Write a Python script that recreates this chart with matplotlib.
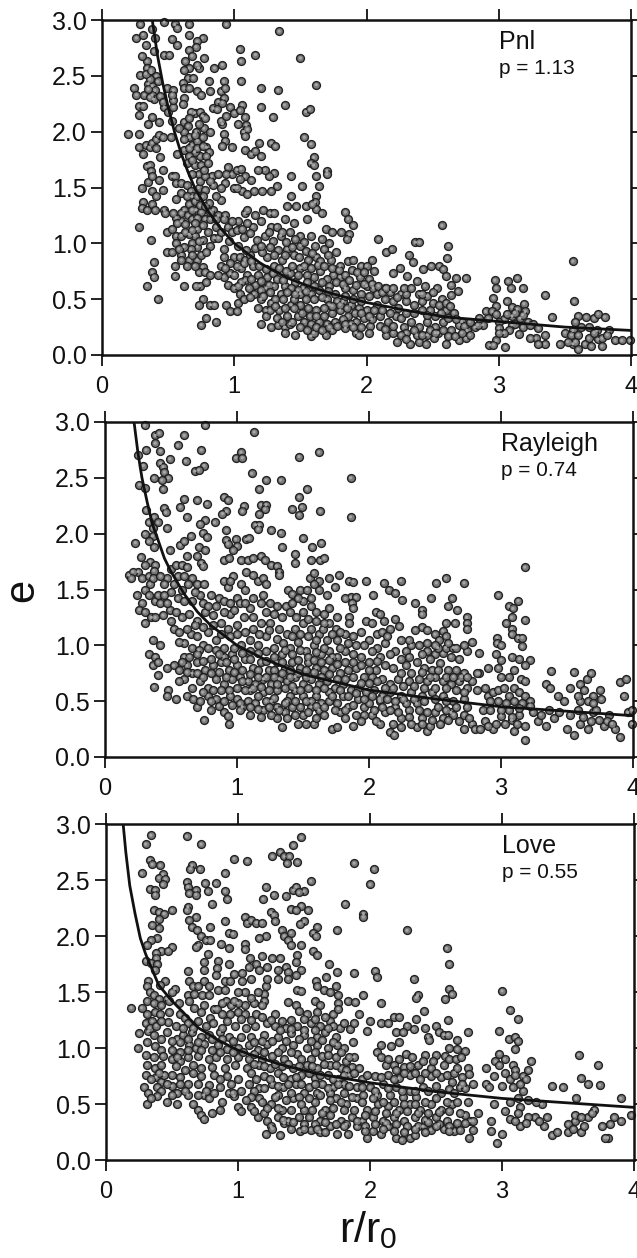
import matplotlib
matplotlib.use("Agg")
import matplotlib.pyplot as plt

plt.rcParams['font.family'] = ['Liberation Sans', 'DejaVu Sans']
plt.rcParams['mathtext.default'] = 'regular'

W, H = 637, 1258

x_ticks = [0, 1, 2, 3, 4]
y_ticks = [0.0, 0.5, 1.0, 1.5, 2.0, 2.5, 3.0]
y_labels = ['0.0', '0.5', '1.0', '1.5', '2.0', '2.5', '3.0']

pnl_curve_r = [.38,.42,.46,.5,.55,.6,.65,.7,.8,.9,1,1.2,1.4,1.6,1.8,2,2.3,2.6,3,3.5,4]
pnl_curve_e = [3.0,2.68,2.43,2.22,1.99,1.8,1.64,1.5,1.29,1.13,1.0,.82,.69,.6,.53,.47,.4,.34,.3,.25,.22]
ray_curve_r = [.22,.25,.28,.32,.36,.4,.45,.5,.6,.7,.8,1,1.2,1.5,2,2.5,3,3.5,4]
ray_curve_e = [3.0,2.72,2.5,2.28,2.08,1.95,1.78,1.66,1.46,1.3,1.18,1.0,.88,.74,.6,.52,.45,.41,.37]
love_curve_r = [.13,.15,.18,.22,.26,.3,.35,.4,.5,.6,.7,.85,1,1.3,1.6,2,2.5,3,3.5,4]
love_curve_e = [3.0,2.75,2.45,2.2,1.98,1.84,1.7,1.56,1.42,1.3,1.18,1.07,.98,.86,.77,.69,.61,.55,.51,.47]

pnl_points = [
(.29,2.96),(.47,2.98),(.55,2.96),(.57,2.93),(.66,2.96),(.94,2.96),(1.34,2.90),(.38,2.92),(.26,2.84),(.31,2.87),
(.33,2.78),(.40,2.84),(.66,2.87),(.76,2.84),(.53,2.83),(.57,2.78),(.72,2.81),(.71,2.76),(1.04,2.74),(.66,2.73),
(.39,2.72),(1.16,2.69),(1.5,2.66),(.47,2.69),(.51,2.69),(.77,2.66),(1.05,2.63),(.34,2.63),(.63,2.63),(.85,2.57),
(.91,2.60),(.73,2.57),(.34,2.57),(.66,2.57),(.29,2.51),(.37,2.53),(.41,2.5),(.65,2.48),(.61,2.44),(.32,2.33),
(.35,2.43),(.38,2.41),(.4,2.37),(.24,2.39),(.26,2.33),(.38,2.33),(.39,2.29),(.28,2.23),(.31,2.23),(.49,2.39),
(.54,2.37),(.62,2.39),(.66,2.39),(.72,2.36),(.75,2.33),(.81,2.45),(.82,2.36),(.92,2.45),(.9,2.36),(.93,2.39),
(1.05,2.45),(1.2,2.39),(1.33,2.37),(1.62,2.42),(1.38,2.24),(.92,2.3),(.88,2.27),(.91,2.26),(.97,2.22),(.84,2.21),
(1.0,2.17),(1.06,2.24),(1.04,2.19),(1.03,2.07),(1.08,2.13),(1.2,2.22),(1.29,2.13),(1.54,2.18),(1.57,2.2),(.28,2.15),
(.38,2.13),(.43,2.09),(.47,2.22),(.5,2.18),(.54,2.22),(.53,2.1),(.35,2.07),(.62,2.3),(.61,2.25),(.7,2.17),
(.74,2.18),(.76,2.14),(.67,2.18),(.62,2.09),(.65,2.05),(.71,2.0),(.77,2.03),(.82,2.0),(.91,2.07),(.92,1.98),
(.93,1.92),(.91,1.87),(.98,1.86),(1.07,2.0),(1.09,2.06),(1.1,2.02),(1.08,1.96),(1.53,1.95),(1.58,1.89),(1.28,1.9),
(1.31,1.87),(1.19,1.9),(.2,1.98),(.28,1.98),(.28,1.86),(.31,1.8),(.33,1.88),(.36,1.86),(.38,1.9),(.41,1.93),
(.43,1.97),(.46,1.95),(.41,1.85),(.44,1.77),(.34,1.69),(.36,1.7),(.37,1.65),(.46,1.66),(.3,1.5),(.35,1.55),
(.38,1.6),(.43,1.57),(.38,1.47),(.41,1.42),(.46,1.48),(.31,1.37),(.3,1.32),(.34,1.3),(.38,1.35),(.4,1.3),
(.47,1.3),(.48,1.27),(.28,1.15),(.37,1.03),(.49,1.1),(.53,1.13),(.56,1.07),(.6,1.07),(.39,.83),(.38,.74),
(.39,.7),(.34,.62),(.42,.5),(.49,.92),(.55,.8),(.55,.71),(.62,.62),(.52,1.95),(.62,2.0),(.66,1.95),(.62,1.93),
(.68,1.88),(.72,1.92),(.76,1.95),(.79,1.86),(.81,1.82),(.74,1.78),(.79,1.78),(.7,1.82),(.66,1.78),(.64,1.72),
(.7,1.7),(.75,1.7),(.8,1.72),(.73,1.62),(.68,1.62),(.83,1.6),(.84,1.52),(.93,1.54),(.95,1.68),(.98,1.62),
(1.02,1.66),(1.05,1.67),(1.08,1.6),(1.13,1.57),(1.0,1.5),(1.06,1.47),(1.1,1.44),(1.15,1.47),(1.21,1.47),(1.28,1.47),
(1.32,1.51),(1.3,1.63),(1.26,1.6),(1.23,1.66),(1.18,1.66),(1.08,1.84),(1.13,1.8),(1.16,1.83),(1.2,1.78),(1.6,1.77),
(1.58,1.72),(1.6,1.7),(1.7,1.65),(1.7,1.62),(1.62,1.6),(1.64,1.51),(1.51,1.51),(1.43,1.42),(1.43,1.6),(1.62,1.42),
(1.61,1.37),(1.62,1.31),(.53,1.6),(.55,1.6),(.56,1.54),(.6,1.54),(.64,1.52),(.67,1.47),(.68,1.42),(.73,1.5),
(.78,1.48),(.76,1.42),(.9,1.39),(.81,1.36),(.84,1.3),(.88,1.25),(.93,1.25),(.66,1.35),(.62,1.3),(.6,1.27),
(.65,1.25),(.6,1.2),(.63,1.17),(.71,1.3),(.75,1.28),(.78,1.22),(.72,1.13),(.76,1.16),(.8,1.1),(.7,1.07),
(.76,1.03),(.72,.97),(.68,1.0),(.67,.95),(.62,.97),(.6,.9),(.66,.85),(.64,.8),(.72,.85),(.75,.9),
(.76,.79),(.73,.74),(.78,.74),(.74,.62),(.79,.65),(.71,.62),(.76,.5),(.73,.45),(.82,.45),(.85,.45),
(.79,.33),(.75,.27),(.86,.3),(.94,.45),(.97,.39),(1.02,.39),(.9,.8),(.92,.7),(.97,.73),(.95,.63),
(1.0,.6),(1.04,.55),(1.03,.47),(1.07,.5),(.85,1.05),(.88,1.05),(.92,.95),(.96,1.02),(.95,1.15),(.98,1.1),
(1.03,1.2),(1.08,1.27),(1.1,1.3),(1.16,1.25),(1.22,1.3),(1.27,1.27),(1.3,1.27),(1.14,1.15),(1.2,1.2),(1.28,1.15),
(1.32,1.15),(1.38,1.22),(1.4,1.33),(1.47,1.33),(1.54,1.33),(1.59,1.35),(1.66,1.27),(1.45,1.18),(1.55,1.22),(1.42,1.1),
(1.5,1.07),(1.58,1.07),(1.69,1.13),(1.74,1.1),(1.81,1.1),(1.84,1.28),(1.86,1.22),(1.9,1.16),(1.87,1.08),(1.85,1.04),
(2.09,1.04),(2.15,.92),(2.19,.95),(2.37,1.01),(2.4,1.01),(2.57,1.16),(2.62,.98),(2.61,.87),(2.32,.9),(2.35,.83),
(2.25,.78),(2.2,.73),(2.31,.71),(2.43,.77),(2.49,.8),(2.55,.8),(2.58,.77),(2.6,.71),(2.68,.69),(2.75,.69),
(2.38,.66),(2.44,.62),(2.53,.6),(2.64,.63),(2.69,.57),(2.64,.54),(2.57,.5),(2.97,.67),(2.98,.6),(3.07,.66),
(3.14,.69),(3.09,.6),(3.18,.6),(3.35,.54),(3.56,.84),(3.57,.48),(2.96,.51),(2.98,.44),(3.06,.48),(3.1,.43),
(3.19,.46),(3.14,.41),(3.2,.39),(3.1,.35),(3.04,.32),(2.9,.39),(2.95,.39),(3.0,.3),(3.1,.27),(3.22,.3),
(3.26,.28),(3.4,.34),(3.6,.35),(3.66,.34),(3.58,.3),(3.72,.33),(3.75,.37),(3.8,.34),(3.83,.22),(3.56,.22),
(3.62,.25),(3.5,.2),(3.56,.1),(3.6,.05),(3.65,.1),(3.55,.18),(3.68,.15),(3.75,.14),(3.78,.08),(3.78,.15),
(3.88,.13),(3.93,.13),(3.99,.13),(3.46,.1),(3.35,.1),(3.28,.15),(3.3,.1),(3.24,.15),(3.15,.19),(3.05,.07),
(2.98,.13),(2.93,.09),(2.96,.09),(1.0,.88),(1.04,.88),(1.08,.85),(1.12,.9),(1.05,.78),(1.1,.72),(1.14,.8),
(1.18,.72),(1.16,.63),(1.11,.6),(1.08,.67),(1.15,.55),(1.2,.5),(1.18,.42),(1.24,.4),(1.24,.35),(1.2,.28),
(1.28,.25),(1.33,.27),(1.38,.25),(1.46,.18),(1.58,.17),(1.6,.2),(1.69,.18),(1.74,.22),(1.84,.24),(1.92,.2),
(1.94,.18),(2.03,.26),(2.15,.18),(2.2,.2),(2.23,.12),(2.33,.1),(2.4,.12),(2.45,.1),(2.51,.15),(2.6,.1),
(2.7,.13),(2.75,.15),(1.25,.7),(1.3,.62),(1.35,.55),(1.28,.47),(1.34,.4),(1.4,.35),(1.43,.45),(1.38,.62),
(1.42,.73),(1.36,.85),(1.3,.8),(1.25,.88),(1.4,.95),(1.45,.9),(1.5,.98),(1.56,.85),(1.62,.88),(1.68,.95),
(1.73,.85),(1.77,.92),(1.8,.8),(1.86,.84),(1.9,.85),(1.96,.8),(2.0,.8),(2.04,.85),(2.06,.75),(2.02,.68),
(2.0,.62),(2.05,.6),(1.96,.55),(1.9,.58),(1.84,.6),(1.8,.7),(1.75,.72),(1.7,.68),(1.65,.75),(1.6,.7),
(1.55,.72),(1.5,.78),(1.46,.65),(1.52,.6),(1.58,.55),(1.64,.58),(1.7,.5),(1.76,.55),(1.82,.48),(1.88,.45),
(1.94,.42),(2.0,.4),(2.08,.45),(2.14,.5),(2.2,.48),(2.26,.55),(2.3,.48),(2.36,.45),(2.42,.48),(2.48,.4),
(1.45,.5),(1.5,.45),(1.56,.42),(1.62,.4),(1.68,.35),(1.74,.38),(1.8,.4),(1.86,.35),(1.92,.3),(1.98,.33),
(1.48,.35),(1.53,.3),(1.58,.28),(1.64,.3),(1.7,.28),(1.76,.3),(1.82,.32),(1.88,.28),(2.04,.32),(2.1,.35),
(2.16,.3),(2.22,.35),(2.28,.25),(2.34,.3),(2.4,.25),(2.46,.3),(2.52,.25),(2.58,.3),(2.64,.22),(2.7,.27),
(2.76,.22),(2.82,.25),(2.88,.27),(2.3,.2),(2.38,.18),(2.46,.18),(2.54,.2),(2.26,.33),(2.6,.4),(2.66,.38),
(2.72,.3),(1.32,.33),(1.36,.3),(1.24,.6),(1.2,.58),(1.42,.28),(1.5,.55),(1.55,.65),(1.72,.62),(1.95,.7),
]
pnl_extra = [
(1.02,1.12),(1.07,1.06),(1.12,1.09),(1.17,1.03),(1.23,1.07),(1.29,1.02),(1.35,1.07),(1.39,1.01),(1.46,1.04),(1.53,1.01),
(1.61,.98),(1.66,1.04),(1.72,1.0),(1.03,.98),(1.09,.94),(1.16,.96),(1.21,.92),(1.27,.97),(1.33,.94),(1.38,.9),(1.44,.97),
(1.49,.88),(1.54,.93),(1.59,.91),(1.65,.84),(1.71,.9),(1.07,.82),(1.13,.84),(1.19,.8),(1.24,.77),(1.29,.73),(1.34,.78),
(1.39,.75),(1.44,.8),(1.48,.72),(1.53,.8),(1.58,.78),(1.63,.81),(1.68,.8),(1.74,.78),(1.79,.76),(1.84,.72),(1.89,.76),
(1.93,.74),(1.98,.74),(1.13,.68),(1.2,.66),(1.26,.63),(1.32,.68),(1.37,.67),(1.43,.6),(1.48,.58),(1.54,.57),(1.6,.62),
(1.66,.65),(1.71,.57),(1.77,.65),(1.82,.64),(1.87,.67),(1.92,.63),(1.98,.64),(2.04,.64),(2.09,.62),(2.14,.6),(1.12,.52),
(1.22,.53),(1.27,.56),(1.31,.5),(1.37,.5),(1.4,.56),(1.46,.55),(1.54,.5),(1.6,.5),(1.66,.52),(1.72,.45),(1.78,.48),
(1.84,.53),(1.9,.5),(1.96,.48),(2.02,.53),(2.08,.55),(2.12,.56),(2.18,.56),(2.23,.52),(2.3,.55),(2.4,.55),(2.46,.53),
(2.5,.47),(2.55,.45),(2.6,.47),(2.63,.44),(1.27,.4),(1.31,.44),(1.38,.42),(1.45,.42),(1.51,.38),(1.57,.35),(1.62,.35),
(1.68,.42),(1.74,.44),(1.8,.45),(1.85,.42),(1.91,.38),(1.96,.38),(2.02,.35),(2.06,.4),(2.12,.4),(2.18,.38),(2.24,.42),
(2.3,.38),(2.36,.38),(2.42,.4),(2.46,.36),(2.52,.35),(2.56,.38),(2.62,.33),(2.68,.32),(2.74,.26),(2.78,.3),(1.38,.2),
(1.44,.3),(1.5,.25),(1.55,.22),(1.62,.25),(1.66,.22),(1.72,.25),(1.78,.26),(1.84,.28),(1.9,.25),(1.96,.25),(2.02,.2),
(2.1,.26),(2.14,.23),(2.2,.26),(2.26,.18),(2.3,.14),(2.36,.22),(2.42,.18),(2.48,.22),(2.52,.2),(2.58,.22),(2.62,.17),
(2.67,.17),(2.72,.2),(2.78,.18),(2.84,.27),(1.3,.9),(1.2,.98),(1.26,1.1),(1.36,1.1),(1.1,1.18),(1.06,1.13),(.98,1.2),
(.92,1.22),(.86,1.15),(.9,1.1),(.82,1.22),(.68,1.22),(.72,1.23),(.7,1.18),(.66,1.08),(.73,1.02),(.82,.98),(.79,.92),
(.68,.9),(.7,.8),(.82,.72),(.88,.72),(.92,.88),(.97,.82),(1.02,.8),(1.0,.72),(1.05,.65),(1.03,.62),(.93,.78),
(.56,1.23),(.54,1.27),(.57,1.18),(.63,1.1),(.68,1.12),(.56,1.0),(.53,.92),(.6,.85),(.58,.95),(.7,1.38),(.74,1.34),
(.68,1.3),(.78,1.33),(.82,1.28),(.86,1.22),(.6,1.45),(.56,1.4),(.72,1.42),(.64,1.42),(.86,1.42),(.74,1.56),(.78,1.6),
(.77,1.66),(.82,1.56),(.88,1.62),(.9,1.5),(.94,1.62),(1.04,1.58),(1.02,1.5),(.57,1.8),(.62,1.84),(.66,1.85),(.72,1.85),
(.68,1.75),(.76,1.87),(.7,1.97),(.73,2.07),(.78,2.12),(.66,2.12),(.58,2.03),(.54,2.28),(.53,2.33),(.44,2.32),(.46,2.27),
(.35,2.38),(.36,2.31),(.42,2.45),(.36,2.47),(.33,2.52),(.3,2.68),(.37,2.55),(.72,2.6),(.68,2.68),(.62,2.55),(.69,2.48),
(.87,2.2),(.9,2.1),(.94,2.14),(2.15,.6),(2.2,.6),(2.28,.6),(2.34,.6),(2.42,.55),(2.5,.56),(2.85,.33),(2.92,.33),
(3.0,.24),(3.08,.22),(3.04,.2),(3.12,.28),(3.16,.33),(3.18,.25),(3.24,.27),(3.3,.24),(3.35,.18),(3.68,.25),(3.74,.22),
(3.6,.18),(3.58,.12),(3.7,.08),(3.82,.18),(3.72,.2),(3.52,.12),(3.0,.2),(3.06,.37),(3.12,.38),(3.18,.36),(2.98,.37),
]

ray_points = [
(.30,2.97),(.76,2.97),(1.13,2.91),(.38,2.88),(.41,2.9),(.6,2.88),(.38,2.81),(.55,2.79),(.73,2.75),(.31,2.75),
(.42,2.74),(1.03,2.73),(1.62,2.73),(1.47,2.69),(.25,2.7),(.49,2.67),(.99,2.68),(1.04,2.68),(.61,2.65),(.29,2.61),
(.42,2.63),(.44,2.6),(.75,2.61),(.68,2.56),(.71,2.57),(1.11,2.54),(.45,2.55),(.37,2.5),(.48,2.5),(.43,2.48),
(1.22,2.48),(1.33,2.48),(1.86,2.5),(.26,2.44),(.3,2.41),(.44,2.4),(1.17,2.4),(1.53,2.4),(.9,2.33),(.93,2.3),
(1.47,2.33),(.6,2.31),(.7,2.3),(.77,2.27),(.57,2.24),(.45,2.23),(.46,2.19),(.31,2.21),(1.05,2.25),(1.04,2.2),
(1.18,2.26),(1.22,2.26),(1.21,2.22),(1.17,2.18),(.92,2.2),(.89,2.18),(1.42,2.22),(1.49,2.24),(1.47,2.17),(1.63,2.2),
(1.86,2.15),(.62,2.15),(.37,2.15),(.4,2.1),(.33,2.1),(.76,2.12),(.72,2.09),(.83,2.1),(1.14,2.08),(1.17,2.08),
(1.16,2.04),(1.26,2.03),(1.33,2.01),(.47,2.05),(.36,2.05),(.3,2.0),(.36,1.98),(.65,1.98),(.74,2.01),(.77,1.97),
(.92,2.03),(.92,1.94),(.93,1.91),(.99,1.95),(1.07,1.95),(1.09,1.96),(1.0,1.89),(.97,1.85),(1.5,1.96),(1.64,1.92),
(1.57,1.88),(1.34,1.88),(.23,1.92),(.33,1.93),(.37,1.88),(.49,1.85),(.57,1.9),(.6,1.93),(.71,1.88),(.76,1.85),
(.62,1.8),(.7,1.8),(.73,1.74),(.74,1.71),(.9,1.76),(.94,1.78),(1.03,1.76),(1.08,1.76),(1.12,1.78),(1.18,1.8),
(1.21,1.76),(1.26,1.72),(1.3,1.71),(1.32,1.66),(1.44,1.82),(1.44,1.74),(1.56,1.76),(1.63,1.76),(1.66,1.78),(3.18,1.7),
(.27,1.79),(.34,1.75),(.38,1.72),(.25,1.66),(.18,1.63),(.21,1.66),(.2,1.6),(.28,1.6),(.33,1.62),(.37,1.67),
(.47,1.6),(.5,1.68),(.54,1.72),(.58,1.72),(.62,1.7),(.55,1.62),(.6,1.62),(.66,1.6),(.7,1.55),(.75,1.55),
(.9,1.58),(.93,1.52),(.97,1.62),(.95,1.58),(1.03,1.55),(1.06,1.5),(1.07,1.66),(1.12,1.63),(1.16,1.58),(1.2,1.6),
(1.22,1.55),(1.32,1.63),(1.39,1.5),(1.42,1.46),(1.48,1.5),(1.53,1.5),(1.55,1.6),(1.58,1.65),(1.62,1.5),(1.7,1.6),
(1.74,1.52),(1.77,1.63),(1.85,1.58),(1.88,1.57),(1.98,1.58),(2.03,1.45),(2.11,1.56),(2.15,1.5),(2.24,1.58),(2.2,1.47),
(2.25,1.41),(2.35,1.38),(2.47,1.42),(2.51,1.56),(2.58,1.6),(2.72,1.56),(2.63,1.42),(2.6,1.35),(2.67,1.32),(2.4,1.32),
(2.4,1.28),(2.98,1.45),(3.06,1.35),(3.09,1.33),(3.13,1.4),(3.18,1.23),(3.08,1.25),(3.04,1.2),(3.08,1.15),(3.08,1.1),
(3.13,1.07),(3.16,1.07),(2.97,1.07),(2.97,1.02),(3.0,1.0),(3.16,.99),(2.74,1.25),(2.74,1.2),(2.74,1.15),(2.58,1.2),
(2.65,1.2),(2.56,1.13),(2.5,1.1),(2.53,1.05),(2.58,1.08),(2.4,1.16),(2.44,1.14),(2.35,1.14),(2.23,1.17),(2.2,1.24),
(2.11,1.22),(2.05,1.3),(2.08,1.28),(1.98,1.22),(2.02,1.2),(2.06,1.1),(1.86,1.43),(1.82,1.42),(1.9,1.43),(1.87,1.38),
(1.88,1.33),(1.85,1.25),(1.85,1.2),(.24,1.45),(.28,1.38),(.26,1.32),(.3,1.3),(.3,1.2),(.35,1.25),(.38,1.4),
(.4,1.45),(.45,1.45),(.5,1.48),(.55,1.42),(.6,1.4),(.66,1.4),(.72,1.45),(.8,1.45),(.86,1.42),(.9,1.4),
(.95,1.38),(1.0,1.42),(1.02,1.38),(.95,1.28),(1.1,1.33),(1.18,1.38),(1.25,1.38),(1.3,1.35),(1.37,1.35),(1.4,1.3),
(1.45,1.25),(1.5,1.4),(1.56,1.35),(1.6,1.3),(1.66,1.28),(1.7,1.2),(1.75,1.15),(.38,1.25),(.44,1.27),(.49,1.32),
(.54,1.3),(.58,1.25),(.64,1.28),(.7,1.22),(.76,1.3),(.82,1.27),(.88,1.2),(.93,1.15),(1.0,1.18),(1.05,1.25),
(1.12,1.25),(1.18,1.2),(1.25,1.2),(1.32,1.15),(1.38,1.1),(1.44,1.15),(1.5,1.2),(1.56,1.15),(1.62,1.1),(1.68,1.05),
(1.76,1.05),(1.82,1.1),(1.88,1.08),(1.94,1.12),(2.0,1.05),(2.06,.98),(2.12,1.02),(2.2,.95),(2.28,.95),(2.32,1.0),
(2.38,1.0),(2.44,.95),(2.5,.92),(2.56,.93),(2.62,.9),(2.68,.88),(2.74,.95),(2.78,1.03),(2.83,.93),(2.96,.92),
(3.0,.87),(3.08,.9),(3.14,.88),(3.22,.87),(3.18,.82),(3.1,.78),(3.06,.72),(2.83,.75),(2.9,.8),(2.98,.8),
(3.0,.72),(3.15,.7),(3.18,.68),(.33,.92),(.36,1.05),(.42,1.0),(.38,.9),(.36,.82),(.4,.85),(.4,.73),(.37,.63),
(.48,.6),(.47,.55),(.54,.52),(.47,.8),(.52,.82),(.56,.78),(.6,.9),(.6,1.02),(.65,1.1),(.7,1.08),(.74,1.0),
(.78,1.12),(.84,1.05),(.9,.98),(.96,.92),(1.03,1.0),(1.1,1.05),(1.16,1.0),(1.22,1.08),(1.28,.98),(1.34,.92),
(1.4,.98),(1.46,1.03),(1.52,.95),(1.58,1.0),(1.64,.92),(1.7,.95),(1.76,.9),(1.82,.95),(1.88,.92),(1.94,.9),
(2.0,.85),(2.05,.78),(2.12,.82),(2.18,.8),(2.28,.82),(2.36,.85),(2.42,.8),(2.48,.78),(2.54,.84),(2.6,.78),
(2.66,.78),(2.72,.75),(.62,.82),(.66,.75),(.7,.85),(.76,.78),(.82,.82),(.88,.85),(.94,.78),(1.0,.82),
(1.06,.88),(1.12,.8),(1.18,.85),(1.24,.78),(1.3,.85),(1.36,.8),(1.42,.85),(1.48,.8),(1.54,.85),(1.6,.8),
(1.66,.78),(1.72,.8),(1.78,.75),(1.84,.78),(1.9,.8),(1.96,.72),(2.02,.72),(2.1,.7),(2.16,.65),(2.22,.7),
(2.3,.68),(2.38,.7),(2.44,.68),(2.5,.72),(2.56,.68),(2.62,.65),(2.68,.68),(2.74,.62),(2.78,.68),(.6,.7),
(.66,.62),(.72,.68),(.78,.62),(.84,.7),(.9,.65),(.96,.7),(1.02,.72),(1.08,.68),(1.14,.65),(1.2,.7),
(1.26,.65),(1.32,.7),(1.38,.68),(1.44,.72),(1.5,.65),(1.56,.7),(1.62,.65),(1.68,.68),(1.74,.62),(1.8,.65),
(1.86,.6),(1.92,.62),(1.98,.58),(2.04,.6),(2.1,.55),(2.16,.58),(2.24,.55),(2.32,.58),(2.4,.55),(2.48,.58),
(2.56,.55),(2.64,.5),(2.72,.52),(2.9,.55),(2.94,.58),(2.98,.6),(3.02,.62),(3.06,.55),(3.1,.62),(3.14,.58),
(3.18,.55),(3.22,.5),(3.34,.65),(3.37,.62),(3.38,.77),(3.43,.55),(3.48,.5),(3.52,.62),(3.55,.76),(3.6,.65),
(3.65,.7),(3.68,.75),(3.63,.6),(3.7,.55),(3.75,.6),(3.76,.52),(3.9,.67),(3.95,.7),(3.93,.55),(.62,.55),
(.67,.52),(.7,.45),(.75,.33),(.72,.5),(.78,.55),(.8,.42),(.84,.52),(.9,.4),(.93,.37),(.94,.3),
(.95,.55),(1.0,.52),(1.04,.45),(1.08,.5),(1.14,.48),(1.2,.42),(1.26,.5),(1.3,.35),(1.34,.27),(1.36,.4),
(1.42,.45),(1.46,.3),(1.5,.38),(1.56,.45),(1.58,.3),(1.62,.42),(1.7,.5),(1.72,.25),(1.76,.27),(1.78,.4),
(1.84,.45),(1.88,.28),(1.9,.38),(1.96,.45),(2.02,.38),(2.08,.3),(2.12,.4),(2.16,.22),(2.19,.2),(2.24,.35),
(2.3,.42),(2.36,.27),(2.4,.35),(2.44,.23),(2.46,.28),(2.5,.4),(2.56,.35),(2.62,.4),(2.68,.32),(2.72,.25),
(2.78,.3),(2.8,.25),(2.88,.32),(2.94,.25),(3.0,.37),(3.06,.42),(3.1,.23),(3.14,.38),(3.18,.28),(3.18,.15),
(3.24,.4),(3.28,.32),(3.34,.28),(3.4,.35),(3.5,.25),(3.55,.2),(3.6,.3),(3.66,.25),(3.7,.4),(3.74,.33),
(3.78,.28),(3.82,.38),(3.86,.25),(3.9,.18),(3.96,.4),(3.99,.3),(3.99,.42),(1.1,.6),(1.2,.58),(1.3,.6),
(1.4,.55),(1.5,.55),(1.6,.55),(1.7,.58),(1.8,.55),(1.16,.55),(1.28,.53),(1.44,.6),(1.56,.5),(1.64,.48),
(1.22,.5),(1.38,.5),(1.48,.45),(1.76,.48),(1.92,.52),(2.0,.48),(2.08,.5),(2.2,.45),(2.28,.48),(2.36,.48),
]
ray_extra = [
(.3,1.72),(.34,1.55),(.36,1.6),(.3,1.5),(.33,1.45),(.42,1.62),(.45,1.55),(.42,1.38),(.47,1.38),(.52,1.55),(.58,1.5),(.63,1.55),
(.68,1.48),(.74,1.38),(.78,1.35),(.84,1.35),(.5,1.22),(.52,1.15),(.56,1.12),(.56,1.03),(.62,1.15),(.68,1.18),(.74,1.16),(.82,1.18),
(.88,1.1),(.95,1.08),(1.0,1.1),(1.06,1.12),(1.12,1.15),(1.17,1.1),(1.24,1.14),(1.3,1.06),(1.35,1.02),(1.42,1.08),(1.48,1.1),(1.54,1.08),
(1.6,1.05),(1.65,1.15),(1.72,1.1),(1.78,1.12),(.66,.98),(.71,.96),(.78,.98),(.84,.96),(.9,.9),(.98,.98),(1.04,.93),(1.1,.95),(1.16,.93),
(1.22,.95),(1.28,.9),(1.36,.96),(1.42,.92),(1.48,.96),(1.54,.9),(1.6,.94),(1.66,.98),(1.72,.9),(1.78,.98),(1.84,1.02),(1.9,1.0),(1.96,1.0),
(2.02,.95),(2.08,.9),(2.16,.92),(2.24,.88),(2.3,.9),(2.4,.92),(2.46,.88),(2.52,.98),(2.58,.98),(2.64,.98),(.58,.85),(.64,.9),(.7,.92),(.74,.86),
(.8,.88),(.86,.92),(.92,.85),(.98,.88),(1.04,.78),(1.1,.88),(1.16,.78),(1.22,.86),(1.28,.78),(1.34,.85),(1.4,.78),(1.46,.87),(1.52,.78),(1.58,.87),
(1.64,.85),(1.7,.87),(1.76,.83),(1.82,.85),(1.88,.85),(1.94,.82),(2.0,.78),(2.06,.86),(2.24,.75),(2.32,.75),(2.4,.76),(2.46,.72),(2.52,.78),
(2.58,.72),(2.64,.72),(2.7,.72),(.56,.68),(.62,.76),(.7,.75),(.74,.72),(.8,.75),(.86,.76),(.92,.72),(.98,.76),(1.04,.68),(1.1,.74),(1.16,.72),
(1.22,.72),(1.28,.72),(1.34,.75),(1.4,.72),(1.46,.75),(1.52,.72),(1.58,.76),(1.64,.72),(1.7,.74),(1.76,.7),(1.82,.7),(1.88,.72),(1.94,.66),(2.0,.66),
(2.06,.68),(2.12,.62),(2.18,.62),(2.26,.64),(2.34,.64),(2.42,.62),(2.5,.62),(2.58,.62),(2.66,.6),(2.72,.58),(.74,.58),(.82,.6),(.88,.6),(.94,.6),
(1.0,.62),(1.06,.6),(1.12,.62),(1.18,.63),(1.24,.6),(1.3,.65),(1.36,.62),(1.42,.64),(1.48,.6),(1.54,.62),(1.6,.6),(1.66,.62),(1.72,.55),(1.78,.6),
(1.84,.55),(1.9,.57),(1.96,.52),(2.02,.55),(2.08,.52),(2.14,.52),(2.2,.5),(2.26,.52),(2.34,.52),(2.42,.5),(2.5,.52),(2.58,.5),(2.66,.45),(2.74,.45),
(.8,.5),(.86,.46),(.9,.5),(.96,.47),(1.02,.48),(1.1,.45),(1.16,.43),(1.24,.45),(1.3,.45),(1.36,.48),(1.44,.5),(1.52,.5),(1.6,.46),(1.66,.45),(1.74,.42),
(1.82,.42),(1.88,.47),(1.96,.38),(2.04,.42),(2.1,.45),(2.16,.42),(2.22,.4),(2.3,.36),(2.38,.42),(2.44,.4),(2.52,.45),(2.58,.42),(2.64,.38),(2.72,.38),
(1.02,.42),(1.1,.38),(1.18,.36),(1.26,.38),(1.32,.42),(1.38,.35),(1.44,.38),(1.52,.3),(1.54,.4),(1.6,.35),(1.66,.38),(1.82,.35),(1.94,.32),(2.05,.32),
(2.18,.3),(2.24,.27),(2.32,.3),(2.4,.3),(2.48,.33),(2.54,.3),(2.6,.33),(2.76,.35),(2.84,.25),(2.9,.28),(2.96,.3),(3.03,.3),(3.08,.33),(3.12,.3),
(3.3,.38),(3.36,.42),(3.44,.4),(3.52,.38),(3.58,.42),(3.62,.36),(3.68,.32),(3.72,.42),(3.8,.32),(3.84,.3),(3.6,.5),(3.66,.5),(3.58,.55),(3.7,.48),
(.9,1.3),(.98,1.32),(1.06,1.38),(1.12,1.42),(1.2,1.45),(1.28,1.28),(1.34,1.25),(1.22,1.3),(1.5,1.3),(1.54,1.24),(1.6,1.22),(1.66,1.2),(1.7,1.33),
(1.76,1.25),(1.42,1.38),(1.46,1.42),(1.56,1.42),(1.68,1.45),(1.62,1.58),(1.58,1.55),(2.1,1.12),(2.16,1.15),(2.14,1.08),(2.24,1.05),(2.3,1.05),(2.44,1.02),
(2.5,1.0),(2.6,1.02),(2.66,.98),(2.72,1.0),(2.82,.75),(2.74,.72),(2.82,.6),(2.88,.62),(2.92,.5),(2.98,.5),(3.04,.48),(3.1,.5),(3.16,.48),(3.22,.46),
(2.86,.42),(2.92,.42),(3.0,.42),(3.08,.36),(3.14,.44),
]

love_points = [
(.34,2.9),(.61,2.89),(1.48,2.88),(.3,2.82),(.72,2.82),(1.42,2.81),(1.32,2.75),(1.26,2.71),(1.35,2.71),(1.39,2.71),
(.97,2.69),(.33,2.68),(.35,2.64),(1.07,2.67),(1.45,2.66),(1.37,2.65),(.41,2.63),(.65,2.63),(.64,2.6),(.71,2.6),
(1.88,2.65),(2.03,2.6),(.27,2.56),(.43,2.55),(.9,2.56),(.4,2.52),(.45,2.51),(1.55,2.49),(.61,2.48),(.75,2.47),
(.83,2.47),(.43,2.46),(2.0,2.46),(.62,2.44),(.33,2.42),(.37,2.41),(1.21,2.44),(1.42,2.41),(1.44,2.44),(1.5,2.4),
(1.46,2.39),(.68,2.41),(.77,2.4),(.9,2.4),(.37,2.37),(.63,2.38),(.68,2.37),(1.27,2.37),(1.36,2.36),(1.19,2.33),
(.92,2.33),(.8,2.29),(1.81,2.29),(.62,2.26),(.61,2.23),(1.48,2.27),(.36,2.23),(.4,2.21),(.44,2.2),(.5,2.23),
(1.4,2.24),(1.44,2.23),(1.53,2.23),(1.25,2.21),(1.27,2.19),(1.95,2.2),(1.95,2.17),(.68,2.17),(.63,2.14),(.4,2.15),
(.9,2.13),(1.05,2.17),(1.07,2.12),(1.1,2.14),(1.14,2.12),(1.18,2.12),(1.28,2.13),(1.5,2.13),(1.47,2.11),(.35,2.1),
(.4,2.07),(.65,2.08),(.69,2.05),(.79,2.08),(1.6,2.08),(1.33,2.05),(1.35,2.0),(1.75,2.05),(2.28,2.05),(.93,2.03),
(.96,2.02),(1.4,2.03),(1.57,2.03),(1.59,2.0),(.39,1.98),(.72,2.0),(.76,1.96),(.79,1.96),(1.21,2.0),(1.16,1.98),
(1.38,1.96),(.34,1.96),(.31,1.92),(.87,1.93),(.93,1.89),(1.05,1.93),(1.05,1.88),(1.4,1.92),(1.48,1.92),(.7,1.92),
(.68,1.9),(.42,1.87),(.5,1.9),(.47,1.87),(.38,1.85),(1.57,1.87),(1.6,1.83),(2.58,1.89),(.77,1.84),(1.45,1.83),
(.38,1.8),(.3,1.78),(.34,1.76),(.39,1.75),(.74,1.77),(.85,1.78),(.93,1.75),(1.09,1.8),(1.18,1.82),(1.26,1.8),
(1.32,1.8),(1.14,1.75),(1.22,1.72),(1.36,1.72),(1.44,1.77),(1.69,1.75),(2.6,1.75),(.37,1.7),(.62,1.69),(.74,1.7),
(.84,1.71),(.97,1.66),(1.03,1.67),(1.08,1.72),(1.16,1.7),(1.3,1.7),(1.38,1.68),(1.48,1.7),(1.75,1.68),(1.88,1.67),
(2.04,1.69),(2.05,1.63),(2.33,1.62),(.83,1.65),(.9,1.6),(.94,1.6),(1.03,1.6),(1.1,1.62),(1.3,1.62),(1.38,1.62),
(1.44,1.65),(1.67,1.63),(1.59,1.6),(.32,1.6),(.31,1.55),(.45,1.6),(.41,1.56),(.52,1.53),(.63,1.6),(.66,1.55),
(.7,1.55),(.74,1.6),(.78,1.55),(1.21,1.55),(1.2,1.48),(1.05,1.5),(1.45,1.52),(1.48,1.51),(1.6,1.55),(1.65,1.52),
(1.74,1.55),(1.7,1.5),(1.76,1.47),(.33,1.5),(.36,1.47),(.4,1.44),(.5,1.5),(.46,1.44),(.62,1.47),(.67,1.48),
(.73,1.47),(.78,1.47),(1.2,1.42),(1.95,1.47),(2.36,1.47),(2.6,1.53),(2.62,1.48),(2.57,1.44),(3.0,1.51),(2.35,1.45),
(.31,1.42),(.36,1.4),(.42,1.38),(.48,1.42),(.55,1.4),(.63,1.42),(.67,1.36),(.74,1.38),(.82,1.35),(.91,1.42),
(.95,1.38),(1.05,1.38),(1.12,1.4),(1.18,1.38),(1.38,1.41),(1.44,1.38),(1.58,1.42),(1.62,1.38),(1.76,1.4),(1.83,1.42),
(1.89,1.41),(2.08,1.4),(.19,1.36),(.27,1.36),(.31,1.3),(.37,1.32),(.41,1.3),(.48,1.32),(.56,1.3),(.6,1.27),
(.72,1.32),(.79,1.27),(.84,1.35),(.94,1.3),(1.0,1.32),(1.05,1.3),(1.14,1.3),(1.28,1.3),(1.46,1.33),(1.52,1.3),
(1.6,1.32),(1.72,1.3),(1.76,1.35),(1.92,1.3),(2.18,1.28),(2.22,1.28),(2.41,1.33),(2.35,1.26),(2.59,1.25),(3.06,1.34),
(3.12,1.26),(.3,1.22),(.35,1.24),(.47,1.23),(.53,1.2),(.62,1.22),(.7,1.24),(.76,1.2),(.81,1.22),(.98,1.2),
(1.06,1.18),(1.13,1.2),(1.22,1.22),(1.28,1.2),(1.36,1.18),(1.45,1.2),(1.55,1.22),(1.62,1.2),(1.7,1.24),(1.77,1.18),
(1.85,1.17),(1.88,1.22),(2.0,1.24),(2.08,1.22),(2.14,1.22),(2.28,1.2),(2.33,1.17),(2.42,1.18),(2.5,1.2),(2.66,1.07),
(.25,1.13),(.32,1.15),(.36,1.12),(.46,1.14),(.54,1.08),(.58,1.12),(.65,1.14),(.72,1.1),(.78,1.12),(.86,1.14),
(.93,1.1),(1.02,1.1),(1.1,1.1),(1.2,1.12),(1.3,1.1),(1.4,1.13),(1.5,1.12),(1.6,1.1),(1.66,1.14),(1.74,1.1),
(1.98,1.15),(2.2,1.14),(2.25,1.14),(2.44,1.1),(2.45,1.07),(2.52,1.14),(2.56,1.12),(2.59,1.12),(2.74,1.14),(2.98,1.15),
(3.05,1.08),(3.1,1.1),(3.12,1.06),(.24,1.0),(.31,1.05),(.37,1.02),(.42,.98),(.5,.98),(.56,.96),(.63,1.03),
(.68,1.0),(.74,1.04),(.85,1.03),(.92,.99),(1.0,1.0),(1.08,1.03),(1.15,.98),(1.22,1.04),(1.33,1.0),(1.42,1.03),
(1.52,1.0),(1.6,1.03),(1.68,1.0),(1.75,1.03),(1.87,1.05),(2.08,1.03),(2.16,1.02),(2.22,1.05),(2.6,1.0),(2.66,.99),
(2.72,.97),(3.1,.99),(.3,.94),(.36,.92),(.43,.93),(.5,.9),(.56,.88),(.62,.92),(.7,.93),(.78,.9),
(.83,.92),(.92,.9),(1.0,.92),(1.08,.9),(1.18,.9),(1.26,.93),(1.35,.9),(1.45,.95),(1.55,.9),(1.64,.93),
(1.74,.92),(1.82,.88),(1.88,.92),(2.05,.96),(2.08,.92),(2.22,.9),(2.27,.95),(2.32,.92),(2.42,.94),(2.5,.94),
(2.57,.93),(2.6,.9),(2.65,.9),(2.69,.92),(2.88,.82),(2.95,.88),(2.98,.95),(3.02,.9),(3.22,.88),(3.58,.94),
(3.73,.85),(.31,.85),(.37,.82),(.42,.85),(.53,.84),(.6,.8),(.66,.85),(.72,.82),(.8,.83),(.9,.82),
(.98,.85),(1.07,.82),(1.16,.85),(1.24,.82),(1.33,.84),(1.42,.82),(1.52,.85),(1.6,.82),(1.7,.85),(1.78,.82),
(1.86,.83),(1.92,.82),(2.12,.85),(2.18,.85),(2.26,.83),(2.36,.85),(2.46,.82),(2.56,.85),(2.74,.82),(2.98,.85),
(3.08,.85),(3.1,.8),(.3,.76),(.38,.74),(.42,.7),(.5,.76),(.56,.74),(.66,.78),(.72,.75),(.82,.76),(.92,.75),
(1.0,.72),(1.1,.78),(1.2,.75),(1.3,.78),(1.4,.72),(1.48,.76),(1.58,.73),(1.68,.76),(1.76,.72),(1.84,.76),
(1.94,.72),(2.04,.75),(2.14,.76),(2.22,.73),(2.3,.76),(2.38,.72),(2.46,.75),(2.54,.74),(2.62,.7),(2.7,.74),
(2.75,.77),(2.94,.75),(3.06,.72),(3.1,.76),(3.16,.75),(3.6,.73),(3.65,.68),(.29,.65),(.32,.6),(.39,.65),
(.42,.62),(.5,.66),(.54,.6),(.62,.68),(.7,.68),(.78,.67),(.86,.65),(.95,.68),(1.08,.68),(1.16,.64),
(1.26,.68),(1.34,.65),(1.44,.68),(1.54,.65),(1.64,.68),(1.72,.65),(1.8,.68),(1.9,.65),(2.0,.65),(2.1,.68),
(2.2,.65),(2.3,.62),(2.4,.65),(2.5,.66),(2.6,.63),(2.68,.65),(2.78,.68),(2.88,.68),(2.9,.65),(3.0,.66),
(3.08,.65),(3.16,.62),(3.38,.66),(3.46,.65),(3.74,.67),(.31,.5),(.39,.57),(.46,.52),(.54,.5),(.62,.58),
(.66,.5),(.7,.45),(.74,.58),(.78,.55),(.72,.4),(.74,.37),(.8,.42),(.86,.45),(.88,.52),(.93,.6),
(.97,.57),(1.0,.47),(1.02,.44),(1.1,.47),(1.15,.38),(1.2,.42),(1.22,.35),(1.21,.23),(1.25,.3),(1.32,.22),
(1.35,.33),(1.4,.28),(1.47,.26),(1.55,.27),(1.62,.25),(1.7,.3),(1.75,.23),(1.83,.23),(1.9,.3),(1.98,.2),
(2.02,.26),(2.08,.23),(2.14,.3),(2.2,.2),(2.24,.18),(2.3,.2),(2.34,.22),(2.4,.3),(2.46,.27),(2.56,.28),
(2.64,.26),(2.75,.2),(2.78,.27),(2.96,.15),(2.92,.35),(3.0,.23),(2.92,.26),(3.06,.37),(3.14,.3),(3.25,.38),
(3.32,.3),(3.38,.22),(3.42,.25),(3.5,.25),(3.55,.35),(3.6,.25),(3.65,.38),(3.7,.45),(3.76,.3),(3.8,.2),
(3.85,.38),(3.9,.35),(3.98,.4),(1.16,.55),(1.25,.5),(1.33,.45),(1.42,.55),(1.5,.45),(1.58,.52),(1.66,.45),
(1.74,.55),(1.82,.5),(1.9,.55),(1.98,.45),(2.06,.5),(2.14,.48),(2.22,.45),(2.3,.5),(2.38,.45),(2.46,.5),
(2.54,.45),(2.62,.5),(2.72,.4),(2.76,.35),(2.82,.42),(2.94,.5),(3.02,.44),(3.14,.47),(3.3,.5),(3.56,.55),
(3.9,.55),(1.3,.38),(1.38,.35),(1.46,.38),(1.54,.38),(1.62,.35),(1.7,.4),(1.78,.35),(1.86,.38),(1.94,.35),
(2.02,.38),(2.1,.35),(2.18,.38),(2.26,.35),(2.34,.38),(2.42,.36),(2.5,.38),(2.58,.35),(2.66,.33),(1.5,.6),
(1.6,.6),(1.7,.6),(1.8,.6),(1.3,.58),(1.4,.6),(1.95,.58),(2.05,.58),(2.15,.58),(2.25,.56),(2.35,.56),
]
love_extra = [
(1.12,1.05),(1.18,1.06),(1.26,1.06),(1.36,1.06),(1.46,1.08),(1.55,1.06),(1.64,1.07),(1.72,1.05),(1.8,1.0),(1.12,.95),(1.2,.96),(1.3,.96),(1.4,.96),(1.48,.9),
(1.58,.96),(1.68,.94),(1.78,.96),(1.84,.92),(1.12,.86),(1.2,.84),(1.28,.86),(1.38,.86),(1.46,.84),(1.56,.84),(1.65,.86),(1.74,.85),(1.82,.8),(1.14,.72),(1.24,.72),
(1.34,.74),(1.44,.74),(1.54,.78),(1.62,.76),(1.72,.72),(1.8,.76),(1.88,.78),(1.98,.76),(2.08,.74),(2.18,.72),(2.26,.78),(2.34,.78),(2.42,.78),(2.5,.78),(2.58,.76),
(1.12,.62),(1.2,.64),(1.3,.66),(1.38,.68),(1.48,.68),(1.58,.68),(1.68,.64),(1.76,.68),(1.84,.66),(1.94,.65),(2.04,.62),(2.14,.64),(2.24,.62),(2.34,.62),(2.44,.62),
(2.54,.6),(2.64,.6),(2.72,.64),(1.1,.56),(1.18,.52),(1.28,.56),(1.36,.54),(1.46,.56),(1.54,.55),(1.62,.58),(1.7,.54),(1.78,.52),(1.86,.56),(1.94,.52),(2.02,.55),
(2.1,.52),(2.18,.52),(2.26,.5),(2.34,.5),(2.42,.52),(2.5,.55),(2.58,.52),(2.66,.52),(2.74,.52),(1.12,.44),(1.22,.46),(1.3,.46),(1.4,.45),(1.48,.5),(1.56,.45),(1.64,.42),
(1.72,.46),(1.8,.45),(1.88,.45),(1.96,.4),(2.04,.44),(2.12,.42),(2.2,.42),(2.28,.44),(2.36,.42),(2.44,.42),(2.52,.43),(2.6,.44),(2.68,.42),(1.26,.28),(1.34,.36),(1.42,.34),
(1.5,.32),(1.58,.32),(1.66,.34),(1.74,.32),(1.82,.32),(1.9,.35),(1.96,.3),(2.04,.32),(2.12,.33),(2.2,.32),(2.28,.3),(2.36,.3),(2.44,.34),(2.52,.32),(2.6,.3),(2.68,.27),
(2.72,.33),(2.78,.35),(1.5,.28),(1.6,.28),(1.66,.25),(1.8,.3),(1.96,.26),(2.1,.28),(2.18,.26),(2.26,.25),(2.34,.28),(2.42,.25),(2.5,.3),(2.6,.26),(.96,.6),(1.02,.62),
(1.06,.54),(.86,.72),(.82,.6),(.76,.62),(.7,.58),(.6,.62),(.56,.68),(.5,.58),(.44,.76),(.46,.68),(.4,.78),(.34,.72),(.34,.55),(.54,.92),(.62,.98),(.72,.98),(.8,.98),
(.86,.96),(.96,.96),(1.04,.96),(.42,1.08),(.5,1.06),(.56,1.05),(.62,1.08),(.7,1.05),(.8,1.08),(.88,1.08),(.96,1.06),(.33,1.18),(.38,1.2),(.42,1.24),(.58,1.18),(.66,1.18),
(.88,1.18),(.92,1.24),(1.02,1.26),(1.1,1.25),(1.18,1.28),(1.25,1.25),(1.33,1.24),(1.4,1.25),(1.5,1.26),(1.58,1.26),(1.66,1.28),(1.72,1.2),(1.8,1.22),(1.32,1.16),
(1.4,1.17),(1.5,1.16),(1.58,1.16),(1.68,1.18),(1.0,1.4),(.88,1.3),(.88,1.4),(1.1,1.45),(1.15,1.5),(1.22,1.62),(.85,1.52),(.9,1.52),(1.0,1.5),(.97,1.42),
(2.14,.9),(2.2,.8),(2.3,.84),(2.4,.88),(2.48,.88),(2.64,.78),(2.66,.82),(2.7,.68),(3.02,.78),(3.14,.68),(3.18,.72),(3.2,.8),(3.12,.55),(3.06,.52),(3.2,.54),(3.26,.52),
(3.12,.42),(3.2,.38),(3.28,.35),(3.34,.38),(3.1,.35),(3.18,.33),(3.55,.4),(3.5,.32),(3.6,.38),(3.54,.28),(3.62,.3),(3.68,.42),(3.82,.32),(3.78,.2),
]


def draw_panel(box, points, curve_r, curve_e, name, p_label):
    left, right, top, bottom = box
    ax = fig.add_axes([left / W, 1 - bottom / H, (right - left) / W, (bottom - top) / H])
    r = [pt[0] for pt in points]
    e = [pt[1] for pt in points]
    ax.scatter(r, e, s=32, facecolor='#7a7a7a', edgecolor='#222222', linewidth=1.0,
               clip_on=False, zorder=2)
    ax.scatter(r, e, s=5, facecolor='#a8a8a8', edgecolor='none', clip_on=False, zorder=3)
    ax.plot(curve_r, curve_e, color='#111111', lw=2.0, zorder=4, solid_joinstyle='round')
    ax.set_xlim(0, 4)
    ax.set_ylim(0, 3)
    ax.set_xticks(x_ticks)
    ax.set_yticks(y_ticks)
    ax.set_yticklabels(y_labels)
    ax.tick_params(axis='x', which='both', direction='out', length=8, width=1.3, top=True,
                   labelsize=17, pad=7, colors='#111111')
    ax.tick_params(axis='y', which='both', direction='out', length=8, width=1.3, right=True,
                   labelsize=18, pad=3, colors='#111111')
    for s in ax.spines.values():
        s.set_linewidth(1.8)
        s.set_color('#111111')
    ax.text(3.0, 2.80, name, fontsize=18, color='#111111', va='center', ha='left')
    ax.text(3.0, 2.57, p_label, fontsize=15, color='#111111', va='center', ha='left')
    return ax


fig = plt.figure(figsize=(W / 100, H / 100), dpi=100, facecolor='white')
draw_panel((102, 631, 20, 355), pnl_points + pnl_extra, pnl_curve_r, pnl_curve_e, 'Pnl', 'p = 1.13')
draw_panel((105, 633, 422, 757), ray_points + ray_extra, ray_curve_r, ray_curve_e, 'Rayleigh', 'p = 0.74')
draw_panel((106, 634, 824, 1160), love_points + love_extra, love_curve_r, love_curve_e, 'Love', 'p = 0.55')

fig.text(22 / W, 1 - 590 / H, 'e', fontsize=30, rotation=90, ha='center', va='center', color='#111111')
fig.text(368 / W, 1 - 1230 / H, 'r/r$_{0}$', fontsize=31, ha='center', va='center', color='#111111')

fig.savefig('out.png', dpi=100)
